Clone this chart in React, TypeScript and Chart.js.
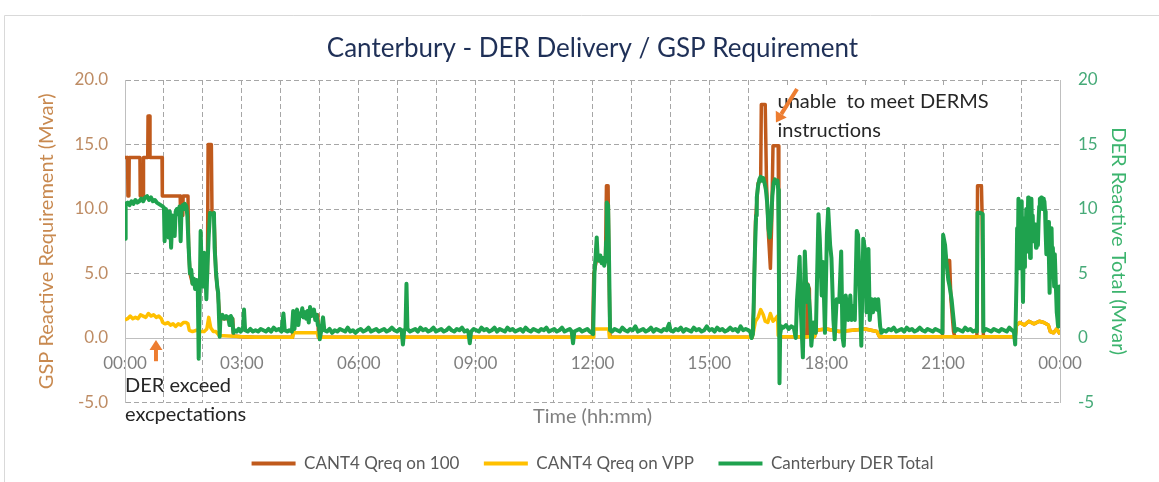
import React, { useEffect, useRef } from "react";
import { Chart, registerables } from "chart.js";

Chart.register(...registerables);

// ---------- texts ----------
const chartTitle = "Canterbury - DER Delivery / GSP Requirement";
const leftAxisTitle = "GSP Reactive Requirement (Mvar)";
const rightAxisTitle = "DER Reactive Total (Mvar)";
const timeAxisTitle = "Time (hh:mm)";
const seriesLabels = ["CANT4 Qreq on 100", "CANT4 Qreq on VPP", "Canterbury DER Total"];
const noteDerLines = ["DER exceed", "excpectations"];
const noteDermsLines = ["unable  to meet DERMS", "instructions"];

// ---------- axis ranges (minutes of day / Mvar) ----------
const timeRange = [0, 1440];
const hourStep = 60;
const labelEvery = 180;
const mvarRange = [-5, 20];
const mvarStep = 5;

// ---------- series: [minute of day, Mvar] ----------
const qreqOn100: [number, number][] = [
  [0, 14], [4, 14], [4.5, 11], [6, 11], [6.5, 14], [23, 14], [23.5, 11], [28, 11], [28.5, 14], [35, 14],
  [35.5, 17.2], [38, 17.2], [38.5, 14], [57, 14], [57.5, 11], [85, 11], [85.5, 9.5], [89, 9.5], [89.5, 11], [97, 11],
  [98, 7], [100, 5], [104, 4.2], [110, 4.4], [116, 4.5], [122, 5], [127, 5], [128, 15], [133, 15], [134, 9.6],
  [137, 9.6], [140, 5], [143, 3.5], [146, 1.5], [166, 1.5], [167, 0.15], [180, 0.1], [200, 0.05],
  [258, 0.05], [259, 1.8], [297, 1.8], [298, 0.05],
  [720, 0.05], [722, 5], [726, 6], [740, 6], [741.5, 11.8], [744, 11.8], [745.5, 5], [747, 0.05],
  [966, 0.05], [968, 2], [971, 9], [975, 12], [979, 12.2], [980, 18.1], [986, 18.1], [988, 12], [991, 8], [994, 5.4],
  [996, 9], [998, 14.9], [1006, 14.9], [1007, 6], [1008, 0.1],
  [1050, 0.1], [1051, 4.2], [1054, 3.8], [1055, 0.1], [1062, 0.1], [1064, 0.6], [1080, 0.7], [1100, 0.5], [1120, 0.6],
  [1140, 0.7], [1158, 0.5], [1162, 0.1],
  [1259, 0.1], [1260, 7.5], [1265, 6.0], [1270, 6.0], [1272, 3], [1276, 0.5], [1278, 0.1],
  [1312, 0.1], [1313, 11.8], [1319, 11.8], [1320, 9.6], [1322, 0.1],
  [1371, 0.1], [1373, 1.0], [1378, 1.2], [1385, 1.0], [1392, 1.3], [1400, 1.1], [1408, 1.3], [1415, 1.2], [1422, 1.0],
  [1425, 0.5], [1430, 0.4], [1435, 0.7], [1440, 0.3],
];

const qreqOnVpp: [number, number][] = [
  [0, 1.4], [4, 1.5], [8, 1.7], [12, 1.5], [16, 1.6], [20, 1.5], [24, 1.8], [28, 1.7], [32, 1.6], [36, 1.9],
  [40, 1.7], [44, 1.8], [48, 1.6], [52, 1.7], [56, 1.5], [58, 1.2], [62, 1.1], [66, 1.2], [70, 1.0], [74, 1.1],
  [78, 0.9], [82, 1.1], [86, 1.0], [90, 1.2], [94, 1.2], [97, 1.1], [99, 0.6], [104, 0.5], [110, 0.6], [116, 0.5],
  [122, 0.5], [126, 0.7], [129, 1.6], [132, 0.8], [136, 0.5], [140, 0.5], [145, 0.2], [160, 0.15], [180, 0.1], [200, 0.05],
  [258, 0.05], [260, 0.4], [296, 0.4], [298, 0.05], [721, 0.05], [722, 0.7], [745, 0.7], [746, 0.05],
  [966, 0.05], [968, 0.5], [971, 1.3], [975, 1.6], [979, 2.2], [983, 1.8], [986, 1.3], [990, 1.2], [994, 1.9], [998, 1.3],
  [1002, 1.5], [1005, 1.7], [1006, 0.2], [1010, 0.1], [1062, 0.1], [1064, 0.6], [1080, 0.7], [1100, 0.5], [1120, 0.6],
  [1140, 0.7], [1158, 0.5], [1162, 0.1], [1371, 0.1], [1373, 1.0], [1378, 1.2], [1385, 1.0], [1392, 1.3], [1400, 1.1],
  [1408, 1.3], [1415, 1.2], [1422, 1.0], [1425, 0.5], [1430, 0.4], [1435, 0.7], [1440, 0.3],
];

const derTotal: [number, number][] = [
  [0, 7.7], [1, 10.4], [4, 10.5], [7, 10.3], [10, 10.6], [13, 10.4], [16, 10.7], [19, 10.5], [22, 10.6], [25, 10.8],
  [28, 10.6], [31, 10.9], [34, 11.0], [37, 10.7], [40, 10.9], [43, 10.6], [46, 10.7], [49, 10.5], [52, 10.4], [55, 10.3],
  [58, 10.2], [60, 10.1], [61, 7.5], [63, 10.0], [65, 9.6], [67, 7.8], [69, 9.8], [71, 7.0], [73, 9.5], [75, 8.5],
  [76.5, 7.9], [78, 9.8], [80, 10.0], [82, 9.6], [84, 10.2], [85.7, 7.5], [87, 9.9], [89, 10.3], [91, 10.0], [92, 10.4],
  [94.5, 10.2], [96, 9.5], [98, 7.0], [100, 5.0], [102, 5.3], [104, 4.2], [106, 4.6], [108, 3.8], [110, 4.5], [112, 4.3],
  [113.5, -1.6], [115, 3.0], [116.5, 8.3], [118, 5.5], [120, 4.0], [122, 6.6], [124, 5.0], [125.3, 3.0], [127, 5.5], [129, 8.0],
  [131, 9.7], [134, 9.6], [137, 9.7], [138, 7.0], [140, 5.2], [142, 4.0], [143.5, 3.5], [145.8, 0.1], [147, 1.6],
  [150, 1.8], [153, 1.5], [156, 1.7], [159, 1.6], [161, 1.0], [163, 1.7], [165, 1.5], [167, 0.4], [169, 0.6], [172, 0.5],
  [175, 0.7], [178, 0.5], [180, 0.6], [182, 0.9], [183.3, 2.2], [185, 0.6], [189, 0.5], [193, 0.7], [197, 0.5], [201, 0.6],
  [205, 0.5], [209, 0.7], [213, 0.6], [217, 0.5], [221, 0.7], [225, 0.5], [229, 0.8], [233, 0.6], [237, 0.7], [241, 0.5],
  [244, 1.9], [246, 0.6], [250, 0.5], [253, 0.6], [257, 0.5], [259, 2.1], [261, 0.7], [263, 1.9], [265, 2.2], [267, 1.0],
  [269, 1.9], [271, 1.7], [273, 2.3], [275, 1.6], [277, 2.0], [279, 1.5], [281, 2.1], [283, 1.2], [285, 2.4], [287, 1.7],
  [289, 1.9], [291, 2.2], [293, 1.4], [295, 1.8], [297, 1.0], [299, 0.9], [300, -0.1], [302, 0.5], [305, 1.6], [307, 0.6],
  [311, 0.5], [315, 0.7], [319, 0.4], [323, 0.6], [327, 0.5], [331, 0.7], [335, 0.6], [339, 0.5], [343, 0.8], [347, 0.5],
  [351, 0.6], [355, 0.4], [359, 0.6], [363, 0.7], [367, 0.5], [371, 0.6], [375, 0.8], [379, 0.5], [383, 0.6], [387, 0.7],
  [391, 0.5], [395, 0.6], [399, 0.7], [403, 0.5], [407, 0.6], [411, 0.8], [415, 0.6], [419, 0.5], [423, 0.7], [426, 0.6],
  [428, -0.5], [430, 0.6], [432, 0.7], [433.5, 4.2], [435, 0.7], [439, 0.5], [443, 0.6], [447, 0.7], [451, 0.5], [455, 0.8],
  [459, 0.6], [463, 0.7], [467, 0.5], [471, 0.6], [475, 0.8], [479, 0.5], [483, 0.6], [487, 0.7], [491, 0.5], [495, 0.6],
  [499, 0.8], [503, 0.6], [507, 0.5], [511, 0.7], [515, 0.6], [519, 0.8], [523, 0.5], [527, 0.6], [529, 0.4], [531, -0.4],
  [533, 0.5], [537, 0.7], [541, 0.6], [545, 0.5], [549, 0.8], [553, 0.6], [557, 0.7], [561, 0.5], [565, 0.6], [569, 0.8],
  [573, 0.5], [577, 0.7], [581, 0.6], [585, 0.5], [589, 0.8], [593, 0.6], [597, 0.7], [601, 0.5], [605, 0.6], [609, 0.7],
  [613, 0.5], [617, 0.8], [621, 0.6], [625, 0.5], [629, 0.7], [633, 0.6], [637, 0.5], [641, 0.7], [645, 0.6], [649, 0.8],
  [653, 0.5], [657, 0.6], [661, 0.7], [665, 0.5], [669, 0.6], [673, 0.8], [677, 0.5], [681, 0.6], [685, 0.7], [688, 0.5],
  [690, -0.4], [692, 0.5], [696, 0.6], [700, 0.7], [704, 0.5], [708, 0.6], [712, 0.7], [716, 0.5], [719, 0.4],
  [721, 0.3], [723, 5.0], [725, 6.5], [726.5, 7.8], [728, 6.2], [730, 6.0], [732, 6.4], [734, 5.8], [736, 6.2], [738, 5.6],
  [740, 6.0], [741, 7.5], [742, 10.5], [744, 10.3], [745.5, 6.0], [747, 0.6],
  [750, 0.5], [754, 0.7], [758, 0.6], [762, 0.5], [766, 0.8], [770, 0.6], [774, 0.5], [778, 0.7], [782, 0.6], [786, 0.9],
  [790, 0.5], [794, 0.6], [798, 0.7], [802, 0.5], [806, 0.6], [810, 0.8], [814, 0.5], [818, 0.7], [822, 0.6], [826, 0.5],
  [830, 0.7], [834, 0.6], [838, 1.1], [840, 0.6], [844, 0.5], [848, 0.7], [852, 0.6], [856, 0.8], [860, 0.5], [864, 0.7],
  [868, 0.6], [872, 0.5], [876, 0.8], [880, 0.6], [884, 0.7], [888, 0.5], [892, 0.6], [896, 0.9], [900, 0.6], [904, 0.7],
  [908, 0.5], [912, 0.8], [916, 0.6], [920, 0.7], [924, 0.5], [928, 0.6], [932, 0.8], [936, 0.6], [940, 0.7], [944, 0.5],
  [948, 0.9], [952, 0.6], [956, 0.7], [960, 0.6], [963, 0.5], [965, 0.0],
  [967, 0.3], [968, 2.0], [970, 6.5], [972, 9.5], [973, 10.9], [975, 11.8], [977, 12.3], [979, 12.5], [981, 12.2], [983, 12.4],
  [985, 12.0], [987, 11.5], [989, 10.5], [991, 8.5], [993, 7.8], [995, 9.0], [997, 11.0], [999, 12.0], [1001, 12.3], [1003, 12.0],
  [1005, 12.2], [1006, 11.5], [1007, 6.0], [1008, -3.5], [1009, 0.3], [1011, 0.9],
  [1014, 0.8], [1018, 1.0], [1022, 0.7], [1026, 0.9], [1030, 0.8], [1033, 0.0], [1035, 3.0], [1037, 4.5], [1039, 6.3], [1041, 2.0],
  [1044, -1.5], [1047, 6.7], [1050, 2.8], [1052, 4.1], [1055, 2.0], [1057, -0.6], [1060, 1.2], [1064, 0.4], [1066, 5.0], [1068, 9.6],
  [1070, 7.7], [1073, 3.3], [1075, 5.9], [1078, 0.4], [1081, 8.0], [1083, 10.0], [1086, 7.2], [1088, 6.2], [1091, 1.4], [1093, -0.1],
  [1096, 3.0], [1100, 2.8], [1103, 6.7], [1105, 0.1], [1107, -0.6], [1110, 3.3], [1114, 1.4], [1117, 3.3], [1119, 1.4], [1122, 2.5],
  [1124, 1.4], [1127, 8.3], [1129, 8.0], [1132, 3.0], [1134, -0.6], [1137, 7.7], [1140, 6.7], [1142, 2.0], [1145, 6.9], [1147, 1.4],
  [1150, 3.0], [1152, 2.0], [1155, 3.0], [1158, 2.2], [1160, 3.0], [1163, 0.9], [1165, 0.4], [1168, 0.6],
  [1172, 0.5], [1176, 0.7], [1180, 0.6], [1184, 0.8], [1188, 0.5], [1192, 0.6], [1196, 0.7], [1200, 0.5], [1204, 0.8], [1208, 0.6],
  [1212, 0.7], [1216, 0.5], [1220, 0.6], [1224, 0.8], [1228, 0.6], [1232, 0.5], [1236, 0.7], [1240, 0.6], [1244, 0.5], [1248, 0.7],
  [1252, 0.6], [1256, 0.5], [1259, 0.4], [1260, 8.0], [1263, 7.2], [1265, 5.9], [1268, 4.5], [1270, 4.0], [1273, 3.0], [1276, 1.5],
  [1278, 0.5], [1282, 0.7], [1286, 0.6], [1290, 0.5], [1294, 0.8], [1298, 0.6], [1302, 0.7], [1306, 0.5], [1310, 0.6], [1312, 0.5],
  [1313, 9.7], [1317, 9.7], [1321, 9.6], [1322, 0.5], [1326, 0.7], [1330, 0.6], [1334, 0.5], [1338, 0.7], [1342, 0.6], [1346, 0.5],
  [1350, 0.7], [1354, 0.6], [1358, 0.5], [1362, 0.8], [1366, 0.6], [1369, 0.5], [1371, -0.5],
  [1373, 4.4], [1374, 8.5], [1375, 6.0], [1376, 10.8], [1377, 7.5], [1378, 5.4], [1379, 9.0], [1380, 6.5], [1381, 10.6], [1382, 6.0],
  [1383, 2.8], [1384, 7.0], [1385, 5.5], [1386, 9.3], [1387, 7.0], [1388, 10.0], [1389, 6.7], [1390, 8.5], [1391, 10.9], [1392, 8.0],
  [1393, 9.5], [1394, 6.2], [1395, 8.5], [1396, 10.8], [1397, 8.0], [1398, 9.5], [1399, 7.5], [1400, 8.5], [1401, 7.7], [1402, 8.8],
  [1403, 7.0], [1404, 7.0], [1405, 8.0], [1406, 7.2], [1407, 9.0], [1408, 10.2], [1409, 10.8], [1410, 10.2], [1411, 10.9], [1412, 10.5],
  [1413, 10.0], [1414, 10.8], [1415, 10.3], [1416, 10.6], [1417, 9.8], [1418, 8.0], [1419, 6.5], [1420, 8.0], [1421, 7.0], [1422, 9.0],
  [1423, 6.0], [1424, 3.5], [1425, 6.5], [1426, 7.5], [1427, 8.5], [1428, 6.0], [1429, 7.0], [1430, 5.4], [1431, 4.0], [1432, 6.5],
  [1433, 5.0], [1434, 3.5], [1435, 2.0], [1436, 1.5], [1437, 0.9], [1438, 2.5], [1439, 4.0], [1440, 3.3],
];

// ---------- styles ----------
const FONT = "Lato, 'Open Sans', sans-serif";
const brown = "#C05A1C";
const gold = "#FFC000";
const green = "#1FA24E";
const arrowOrange = "#ED7D31";
const titleColor = "#1F3057";
const leftTickColor = "#BE8C64";
const leftTitleColor = "#C8894F";
const rightTickColor = "#46AA78";
const rightTitleColor = "#3CB46E";
const gridColor = "#A6A6A6";
const axisColor = "#BFBFBF";
const noteColor = "#262626";

function hhmm(v: number): string {
  const h = Math.floor(v / 60) % 24;
  return String(h).padStart(2, "0") + ":00";
}

function drawArrow(ctx: CanvasRenderingContext2D, x1: number, y1: number, x2: number, y2: number) {
  const ang = Math.atan2(y2 - y1, x2 - x1);
  const headLen = 10;
  const headW = 6.5;
  const bx = x2 - headLen * Math.cos(ang);
  const by = y2 - headLen * Math.sin(ang);
  ctx.strokeStyle = arrowOrange;
  ctx.fillStyle = arrowOrange;
  ctx.lineWidth = 4;
  ctx.beginPath();
  ctx.moveTo(x1, y1);
  ctx.lineTo(bx, by);
  ctx.stroke();
  ctx.beginPath();
  ctx.moveTo(x2, y2);
  ctx.lineTo(bx + headW * Math.sin(ang), by - headW * Math.cos(ang));
  ctx.lineTo(bx - headW * Math.sin(ang), by + headW * Math.cos(ang));
  ctx.closePath();
  ctx.fill();
}

const notesPlugin = {
  id: "notes",
  beforeDatasetsDraw(chart: any) {
    const { ctx, scales } = chart;
    const x = scales.x;
    const y = scales.y;
    ctx.save();
    ctx.fillStyle = "#ffffff";
    const l = x.getPixelForValue(996);
    const r = x.getPixelForValue(1355);
    const t = y.getPixelForValue(19.6);
    const b = y.getPixelForValue(15.2);
    ctx.fillRect(l, t, r - l, b - t);
    ctx.restore();
  },
  afterDraw(chart: any) {
    const { ctx, scales } = chart;
    const x = scales.x;
    const y = scales.y;
    ctx.save();
    // outer frame
    ctx.strokeStyle = "#D9D9D9";
    ctx.lineWidth = 1;
    ctx.beginPath();
    ctx.moveTo(4.5, chart.height);
    ctx.lineTo(4.5, 15.5);
    ctx.lineTo(chart.width, 15.5);
    ctx.stroke();
    // notes
    ctx.fillStyle = noteColor;
    ctx.font = `20px ${FONT}`;
    ctx.textAlign = "left";
    ctx.textBaseline = "alphabetic";
    ctx.fillText(noteDerLines[0], x.getPixelForValue(0), y.getPixelForValue(-4.17));
    ctx.fillText(noteDerLines[1], x.getPixelForValue(0), y.getPixelForValue(-6.4));
    ctx.fillText(noteDermsLines[0], x.getPixelForValue(1005), y.getPixelForValue(17.85));
    ctx.fillText(noteDermsLines[1], x.getPixelForValue(1005), y.getPixelForValue(15.6));
    // arrows
    drawArrow(ctx, x.getPixelForValue(47.7), y.getPixelForValue(-1.8), x.getPixelForValue(47.7), y.getPixelForValue(-0.15));
    drawArrow(ctx, x.getPixelForValue(1035), y.getPixelForValue(19.3), x.getPixelForValue(1002.5), y.getPixelForValue(16.7));
    ctx.restore();
  },
};

export default function App() {
  const ref = useRef<HTMLCanvasElement>(null);

  useEffect(() => {
    if (!ref.current) return;
    const chart = new Chart(ref.current, {
      type: "line",
      data: {
        datasets: [
          {
            label: seriesLabels[0],
            data: qreqOn100 as any,
            borderColor: brown,
            backgroundColor: brown,
            borderWidth: 3.5,
            pointRadius: 0,
            yAxisID: "y",
            xAxisID: "x",
            order: 3,
            borderJoinStyle: "round",
          },
          {
            label: seriesLabels[1],
            data: qreqOnVpp as any,
            borderColor: gold,
            backgroundColor: gold,
            borderWidth: 3.5,
            pointRadius: 0,
            yAxisID: "y",
            xAxisID: "x",
            order: 2,
            borderJoinStyle: "round",
          },
          {
            label: seriesLabels[2],
            data: derTotal as any,
            borderColor: green,
            backgroundColor: green,
            borderWidth: 4,
            pointRadius: 0,
            yAxisID: "y2",
            xAxisID: "x",
            order: 1,
            borderJoinStyle: "round",
          },
        ],
      },
      options: {
        responsive: false,
        animation: false,
        devicePixelRatio: 1,
        events: [],
        layout: { padding: 0 },
        plugins: {
          tooltip: { enabled: false },
          title: {
            display: true,
            text: chartTitle,
            color: titleColor,
            fullSize: false,
            font: { family: FONT, size: 26, weight: "normal" },
            padding: { top: 33, bottom: 15.8 },
          },
          legend: {
            position: "bottom",
            fullSize: false,
            maxHeight: 56,
            labels: {
              boxWidth: 44,
              boxHeight: 4,
              padding: 24.5,
              color: "#595959",
              font: { family: FONT, size: 17 },
              generateLabels: (c: any) =>
                c.data.datasets.map((ds: any, i: number) => ({
                  text: ds.label,
                  fillStyle: ds.borderColor,
                  strokeStyle: ds.borderColor,
                  lineWidth: 0,
                  hidden: false,
                  datasetIndex: i,
                  fontColor: "#595959",
                })),
            },
          },
        },
        scales: {
          x: {
            type: "linear",
            min: timeRange[0],
            max: timeRange[1],
            position: { y: 0 } as any,
            ticks: {
              stepSize: hourStep,
              autoSkip: false,
              maxRotation: 0,
              minRotation: 0,
              padding: 15,
              color: "#7F7F7F",
              font: { family: FONT, size: 17 },
              callback: (v: any) => (Number(v) % labelEvery === 0 ? hhmm(Number(v)) : ""),
            },
            grid: {
              drawTicks: false,
              lineWidth: 1,
              color: (c: any) =>
                c.tick && (c.tick.value === timeRange[0] || c.tick.value === timeRange[1])
                  ? "rgba(0,0,0,0)"
                  : gridColor,
            },
            border: { display: true, color: axisColor, width: 1, dash: [5, 3] },
          },
          xb: {
            type: "linear",
            min: timeRange[0],
            max: timeRange[1],
            position: "bottom",
            grid: { display: false, drawTicks: false },
            border: { display: false },
            ticks: { display: false },
            title: {
              display: true,
              text: timeAxisTitle,
              color: "#808080",
              font: { family: FONT, size: 20 },
              padding: { top: 2, bottom: 2 },
            },
          },
          y: {
            type: "linear",
            position: "left",
            min: mvarRange[0],
            max: mvarRange[1],
            ticks: {
              stepSize: mvarStep,
              padding: 17,
              color: leftTickColor,
              font: { family: FONT, size: 17 },
              callback: (v: any) => Number(v).toFixed(1),
            },
            grid: {
              drawTicks: false,
              lineWidth: 1,
              color: (c: any) => (c.tick && c.tick.value === 0 ? "rgba(0,0,0,0)" : gridColor),
            },
            border: { display: true, color: axisColor, width: 1, dash: [5, 3] },
            title: {
              display: true,
              text: leftAxisTitle,
              color: leftTitleColor,
              font: { family: FONT, size: 20 },
              padding: { top: 35, bottom: 0 },
            },
            afterFit: (s: any) => {
              s.width = 125;
            },
          },
          y2: {
            type: "linear",
            position: "right",
            min: mvarRange[0],
            max: mvarRange[1],
            ticks: {
              stepSize: mvarStep,
              padding: 18,
              color: rightTickColor,
              font: { family: FONT, size: 17 },
              callback: (v: any) => String(v),
            },
            grid: { display: false, drawTicks: false },
            border: { display: true, color: axisColor, width: 1 },
            title: {
              display: true,
              text: rightAxisTitle,
              color: rightTitleColor,
              font: { family: FONT, size: 20 },
              padding: { top: 29, bottom: 0 },
            },
            afterFit: (s: any) => {
              s.width = 99;
            },
          },
        },
      } as any,
      plugins: [notesPlugin],
    });
    return () => chart.destroy();
  }, []);

  return (
    <div style={{ position: "absolute", left: 0, top: 0, width: 1159, height: 482, background: "#ffffff" }}>
      <canvas ref={ref} width={1159} height={482} style={{ display: "block", width: 1159, height: 482 }} />
    </div>
  );
}
